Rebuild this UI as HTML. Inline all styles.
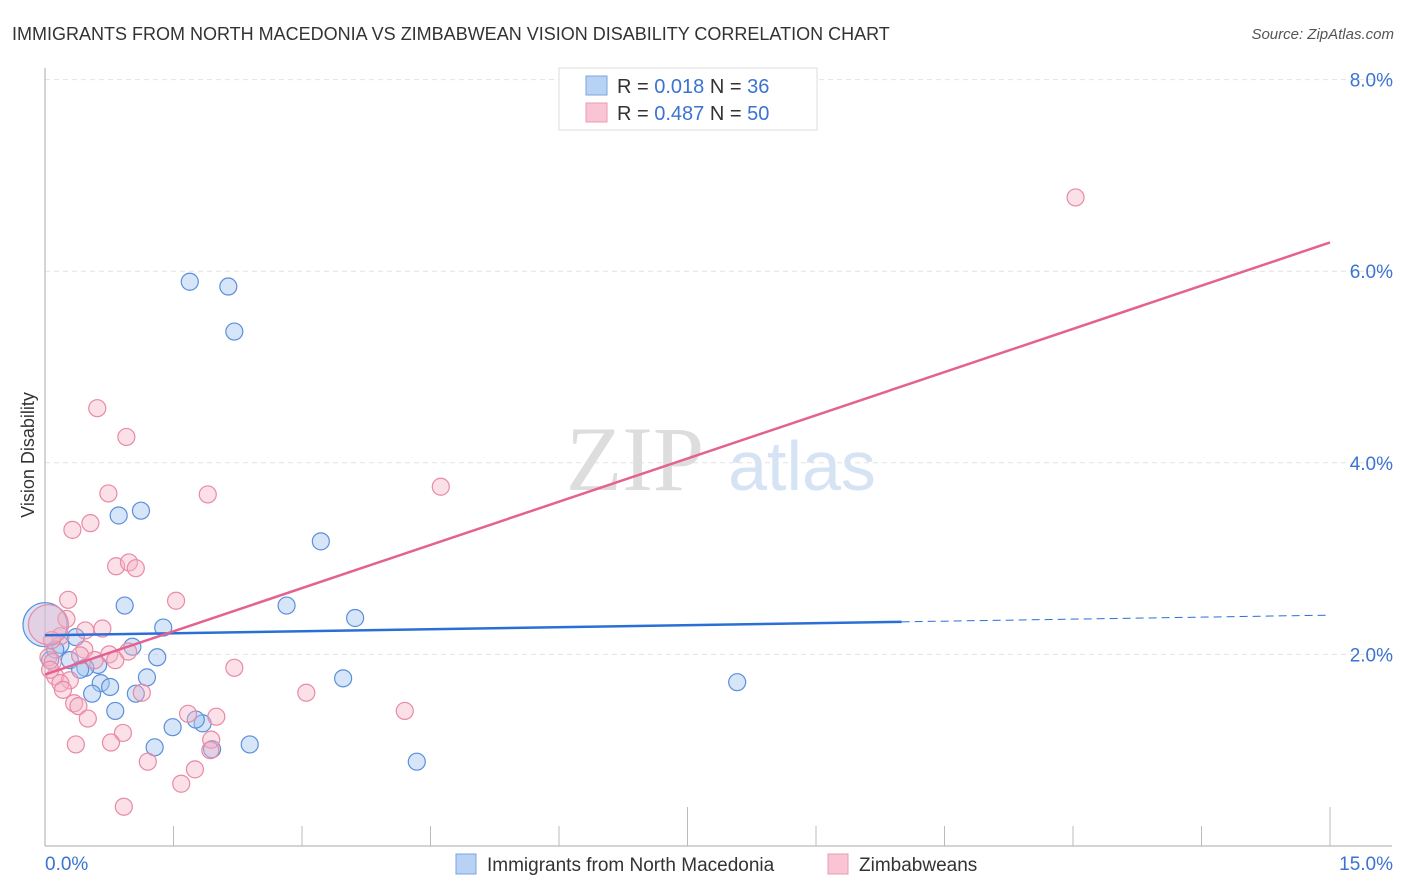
<!DOCTYPE html>
<html><head><meta charset="utf-8"><style>
body{margin:0;background:#fff;font-family:"Liberation Sans",sans-serif;}
svg{display:block}
</style></head><body>
<svg id="chart" width="1406" height="892">
<text x="12" y="40" font-size="18" fill="#333">IMMIGRANTS FROM NORTH MACEDONIA VS ZIMBABWEAN VISION DISABILITY CORRELATION CHART</text>
<text x="1394" y="39" font-size="15" fill="#555" font-style="italic" text-anchor="end">Source: ZipAtlas.com</text>
<text x="34" y="455" font-size="18" fill="#333" text-anchor="middle" transform="rotate(-90 34 455)">Vision Disability</text>
<g><text x="635" y="490" font-size="92" fill="#ddd" font-family="Liberation Serif,serif" text-anchor="middle">ZIP</text><text x="802" y="490" font-size="70" fill="#d6e3f4" text-anchor="middle">atlas</text></g>
<g id="grid"></g><g id="axes"></g><g id="pts"></g><g id="trends"></g>
<g>
<rect x="559" y="68" width="258" height="62" fill="#fff" stroke="#ddd"/>
<rect x="586" y="76" width="21" height="19" fill="#b8d2f4" stroke="#7aa6e0"/>
<rect x="586" y="103" width="21" height="19" fill="#f9c5d4" stroke="#eb9ab3"/>
<text x="617" y="93" font-size="20" fill="#333">R = <tspan fill="#3b73d1">0.018</tspan>   N = <tspan fill="#3b73d1"> 36</tspan></text>
<text x="617" y="120" font-size="20" fill="#333">R = <tspan fill="#3b73d1">0.487</tspan>   N = <tspan fill="#3b73d1">50</tspan></text>
</g>
<g>
<rect x="456" y="854" width="20" height="20" fill="#b8d2f4" stroke="#7aa6e0"/>
<text x="487" y="871" font-size="19" fill="#333">Immigrants from North Macedonia</text>
<rect x="828" y="854" width="20" height="20" fill="#f9c5d4" stroke="#eb9ab3"/>
<text x="859" y="871" font-size="19" fill="#333">Zimbabweans</text>
</g>
</svg>
<script>
const yTicks=[2,4,6,8];
const xTickCount=10;
const blueX=[1.69,2.14,2.21,0.86,1.12,3.22,0.93,2.82,3.62,1.38,0.36,1.02,0.18,1.31,0.06,0.62,0.47,1.19,3.48,0.65,0.76,0.55,1.06,0.82,1.84,1.49,1.76,1.95,1.28,2.39,4.34,8.08,0.0,0.29,0.12,0.41];
const blueY=[5.89,5.84,5.37,3.45,3.50,3.18,2.51,2.51,2.38,2.28,2.18,2.08,2.10,1.97,1.94,1.89,1.86,1.76,1.75,1.70,1.66,1.59,1.59,1.41,1.28,1.24,1.32,1.01,1.03,1.06,0.88,1.71,2.31,1.94,2.05,1.84];
const pinkX=[12.03,0.61,0.95,0.74,1.90,4.62,0.32,0.53,0.83,0.98,1.06,0.27,1.53,0.25,0.67,0.18,0.08,0.46,0.41,0.75,0.97,0.04,0.09,2.21,0.12,0.29,0.18,1.13,3.05,4.20,0.34,0.39,0.50,1.67,2.00,0.91,1.94,0.36,0.77,1.20,1.75,1.59,0.92,0.04,0.47,0.82,0.06,0.21,0.58,1.93];
const pinkY=[6.77,4.57,4.27,3.68,3.67,3.75,3.30,3.37,2.92,2.96,2.90,2.57,2.56,2.37,2.27,2.19,2.15,2.05,1.99,2.00,2.03,1.97,1.92,1.86,1.77,1.73,1.70,1.60,1.60,1.41,1.49,1.46,1.33,1.38,1.35,1.18,1.11,1.06,1.08,0.88,0.80,0.65,0.41,2.31,2.25,1.94,1.84,1.63,1.94,1.00];
const blueTrend=[2.20,2.34,2.41]; // y at x=0, x=10, x=15
const pinkTrend=[1.79,6.30]; // y at x=0, x=15
const NS='http://www.w3.org/2000/svg';
const xs=v=>45+v*(1285/15);
const ys=v=>846-v*95.8;
function mk(tag,attrs,parent){const e=document.createElementNS(NS,tag);for(const k in attrs)e.setAttribute(k,attrs[k]);document.getElementById(parent).appendChild(e);return e;}
yTicks.forEach(t=>{
 const l=mk('line',{x1:45,x2:1392,y1:ys(t),y2:ys(t),stroke:'#e2e2e2','stroke-dasharray':'5,4'},'grid');
 
 
 const tx=mk('text',{x:1393,y:ys(t)+7,'font-size':19,fill:'#3b73d1','text-anchor':'end'},'grid');
 tx.textContent=t.toFixed(1)+'%';
 
 
});
const ax=mk('line',{x1:45,x2:45,y1:68,y2:846,stroke:'#aaa'},'axes');


const bx=mk('line',{x1:45,x2:1392,y1:846,y2:846,stroke:'#aaa'},'axes');


for(let i=1;i<=xTickCount;i++){
 const v=i*1.5;const long=(i===5||i===10);
 const t=mk('line',{x1:xs(v),x2:xs(v),y1:long?807:826,y2:846,stroke:'#bbb'},'axes');
 
 
}
[['0.0%',45,'start'],['15.0%',1393,'end']].forEach(a=>{
 const t=mk('text',{x:a[1],y:870,'font-size':19,fill:'#3b73d1','text-anchor':a[2]},'axes');
 t.textContent=a[0];
 
 
});
blueX.forEach((x,i)=>{
 const c=mk('circle',{cx:xs(x),cy:ys(blueY[i]),r:(i===32?22:8.5),fill:'rgba(164,198,240,0.45)',stroke:'#5b8fdb','stroke-width':1.2},'pts');
 
 
});
pinkX.forEach((x,i)=>{
 const c=mk('circle',{cx:xs(x),cy:ys(pinkY[i]),r:(i===43?20:8.5),fill:'rgba(245,178,198,0.4)',stroke:'#e88aa6','stroke-width':1.2},'pts');
 
 
});
const b1=mk('line',{x1:xs(0),y1:ys(blueTrend[0]),x2:xs(10),y2:ys(blueTrend[1]),stroke:'#2a6fd6','stroke-width':2.5},'trends');


const b2=mk('line',{x1:xs(10),y1:ys(blueTrend[1]),x2:xs(15),y2:ys(blueTrend[2]),stroke:'#2a6fd6','stroke-width':1,'stroke-dasharray':'8,5'},'trends');


const p1=mk('line',{x1:xs(0),y1:ys(pinkTrend[0]),x2:xs(15),y2:ys(pinkTrend[1]),stroke:'#e4628f','stroke-width':2.5},'trends');


</script>
</body></html>
